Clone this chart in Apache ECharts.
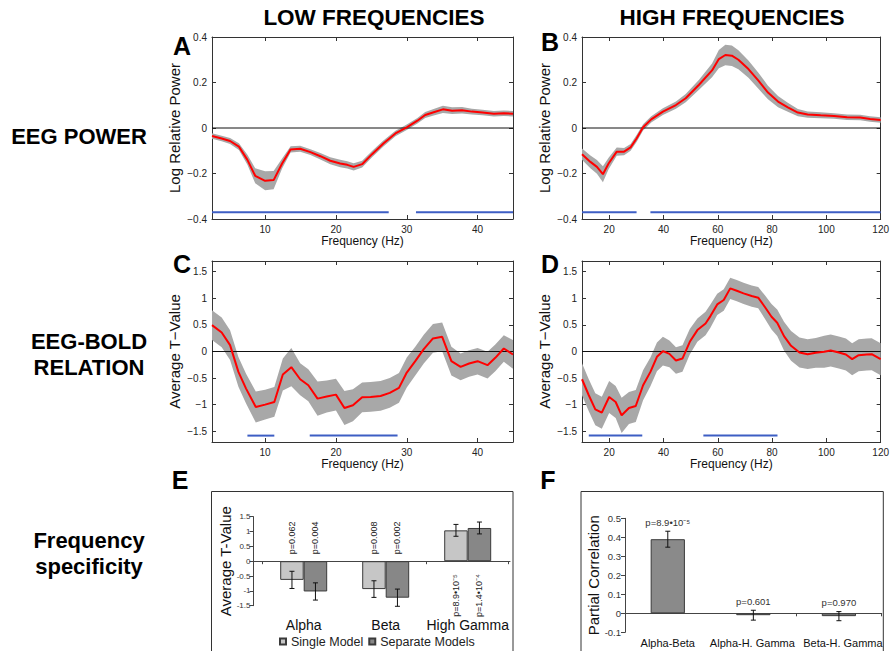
<!DOCTYPE html>
<html><head><meta charset="utf-8">
<script src="https://cdn.jsdelivr.net/npm/echarts@6/dist/echarts.min.js"></script>
<style>html,body{margin:0;padding:0;background:#fff}#c{width:892px;height:651px}</style>
</head><body><div id="c"></div>
<script>
// ---------- DATA ----------
// Panel A: low-frequency EEG power
const freqA = [2.5,3.87,5.05,6.3,7.5,8.6,10,11.2,12.4,13.6,14.95,16.4,17.8,19.2,20.6,21.6,22.5,23.7,25.1,26.7,28.4,30,31.5,32.6,33.8,35.1,36.4,37.8,39.2,40.7,42.3,43.7,45];
const powerA = [-0.035,-0.046,-0.057,-0.082,-0.14,-0.21,-0.232,-0.229,-0.156,-0.094,-0.091,-0.106,-0.124,-0.144,-0.156,-0.162,-0.171,-0.159,-0.115,-0.068,-0.024,0.003,0.032,0.057,0.069,0.082,0.076,0.078,0.072,0.068,0.063,0.065,0.063];
const errA = [0.012,0.012,0.013,0.015,0.022,0.033,0.042,0.04,0.022,0.014,0.013,0.013,0.014,0.015,0.016,0.016,0.016,0.015,0.014,0.013,0.012,0.012,0.012,0.013,0.014,0.016,0.015,0.014,0.013,0.012,0.012,0.012,0.012];
const sigA = [[2.5,27.45],[31.3,45]];
// Panel B: high-frequency EEG power
const freqB = [10,13.1,15.5,17.7,19.8,22.8,25.5,27.9,30.1,32.5,35.5,39.8,44.6,48.2,53.1,57.9,60.4,62.8,65.2,67.6,71.3,74.9,78.5,82.2,85.8,89.5,93.1,97.9,102.8,107.6,112.5,116.1,120];
const powerB = [-0.115,-0.149,-0.171,-0.203,-0.156,-0.104,-0.104,-0.085,-0.046,0.003,0.038,0.072,0.101,0.131,0.19,0.253,0.303,0.321,0.318,0.3,0.259,0.209,0.156,0.116,0.091,0.068,0.059,0.056,0.053,0.047,0.046,0.04,0.035];
const errB = [0.025,0.028,0.03,0.035,0.025,0.018,0.016,0.015,0.015,0.014,0.014,0.015,0.016,0.018,0.022,0.03,0.04,0.045,0.045,0.042,0.038,0.035,0.03,0.025,0.02,0.016,0.014,0.013,0.012,0.012,0.012,0.012,0.012];
const sigB = [[10,30.1],[35.2,120]];
const sigLevelPower = -0.37;
// Panel C: low-frequency EEG-BOLD relation
const freqC = [2.5,3.87,5.05,6.23,7.31,8.68,10,11.3,12.5,13.7,14.95,16.1,17.4,18.7,20,21.2,22.4,23.7,24.9,26.3,27.6,28.9,30,31.2,32.4,33.7,35,36.3,37.6,38.8,40,41.4,42.5,43.7,45];
const tC = [0.496,0.358,0.119,-0.383,-0.697,-1.042,-0.998,-0.948,-0.433,-0.295,-0.521,-0.634,-0.885,-0.847,-0.81,-1.061,-1.01,-0.86,-0.854,-0.835,-0.778,-0.684,-0.395,-0.182,0.044,0.245,0.276,-0.182,-0.289,-0.226,-0.182,-0.257,-0.119,0.056,-0.056];
const errC = [0.28,0.28,0.28,0.28,0.28,0.29,0.28,0.28,0.3,0.36,0.3,0.3,0.32,0.3,0.3,0.32,0.3,0.28,0.28,0.28,0.28,0.28,0.28,0.27,0.27,0.27,0.27,0.27,0.25,0.25,0.25,0.25,0.25,0.25,0.27];
const sigC = [[7.5,11.3],[16.3,28.7]];
// Panel D: high-frequency EEG-BOLD relation
const freqD = [10,12.5,14.9,17.3,20,22.4,24.6,27.3,29.8,32.5,35.2,37.6,39.8,42.2,44.6,47,49.7,52.5,55.5,57.3,59.8,62.2,64.6,67,69.5,72.5,74.9,77.3,79.8,81.9,84.4,87,90.1,93.1,96.1,99.2,101.6,104.6,107.2,109.5,111.9,114.9,116.7,120];
const tD = [-0.521,-0.822,-1.086,-1.149,-0.854,-0.948,-1.199,-1.061,-1.023,-0.634,-0.383,-0.1,0.006,-0.044,-0.169,-0.132,0.182,0.402,0.527,0.665,0.885,0.967,1.186,1.142,1.092,1.042,1.011,0.841,0.653,0.54,0.289,0.107,-0.019,-0.05,-0.025,-0.006,0.019,-0.019,-0.056,-0.144,-0.069,-0.056,-0.05,-0.144];
const errD = [0.3,0.3,0.3,0.3,0.3,0.3,0.33,0.3,0.3,0.28,0.27,0.27,0.27,0.25,0.25,0.25,0.24,0.22,0.22,0.22,0.2,0.2,0.2,0.2,0.2,0.2,0.2,0.22,0.24,0.25,0.27,0.28,0.28,0.28,0.28,0.3,0.3,0.3,0.3,0.3,0.3,0.3,0.3,0.3];
const sigD = [[12.5,32.2],[54.7,82]];
const sigLevelT = -1.58;
// Panel E: frequency specificity
const eCats = ['Alpha','Beta','High Gamma'];
const eSingle = [-0.63,-0.94,1.04];
const eSingleErr = [0.29,0.28,0.2];
const eSeparate = [-1.02,-1.23,1.12];
const eSeparateErr = [0.29,0.29,0.2];
const pSingle = ['p=0.062','p=0.008','p=8.9\u202210\u207B\u2075'];
const pSeparate = ['p=0.004','p=0.002','p=1.4\u202210\u207B\u2074'];
// Panel F: partial correlation
const fCats = ['Alpha-Beta','Alpha-H. Gamma','Beta-H. Gamma'];
const fVals = [0.39,-0.01,-0.015];
const fErr = [0.042,0.026,0.024];
const pF = ['p=8.9\u202210\u207B\u2075','p=0.601','p=0.970'];

// ---------- CHART ----------
const chart = echarts.init(document.getElementById('c'), null, {renderer:'svg', width:892, height:651});
const FONT = "'Liberation Sans', Arial, Helvetica, sans-serif";
const grids = [], xAxes = [], yAxes = [], series = [];
const minus = s => String(s).replace('-', '\u2212');
const onStep = (v, step) => Math.abs(v / step - Math.round(v / step)) < 1e-6;

function linePanel(c) {
  const g = grids.length;
  grids.push({left:c.left, top:c.top, width:c.width, height:c.height});
  const axLine = {show:true, onZero:false, lineStyle:{color:'#333', width:1}};
  const tick = {show:true, inside:true, length:4, lineStyle:{color:'#333', width:1}};
  const xi = xAxes.length, yi = yAxes.length;
  const xBase = {gridIndex:g, type:'value', min:c.xmin, max:c.xmax, splitNumber:c.xsplit,
    axisLine:axLine, axisTick:tick, splitLine:{show:false}};
  xAxes.push(Object.assign({}, xBase, {position:'bottom',
    axisLabel:{fontSize:10, color:'#222', fontFamily:FONT, margin:5,
      formatter: v => onStep(v, c.xstep) ? String(Math.round(v)) : ''},
    name:'Frequency (Hz)', nameLocation:'middle', nameGap:14,
    nameTextStyle:{fontSize:12, color:'#111', fontFamily:FONT}}));
  xAxes.push(Object.assign({}, xBase, {position:'top', axisLabel:{show:false}}));
  const yBase = {gridIndex:g, type:'value', min:c.ymin, max:c.ymax, splitNumber:c.ysplit,
    axisLine:axLine, axisTick:tick, splitLine:{show:false}};
  yAxes.push(Object.assign({}, yBase, {position:'left',
    axisLabel:{fontSize:10, color:'#222', fontFamily:FONT, margin:5,
      formatter: v => onStep(v, c.ystep) ? minus(+v.toFixed(3)) : ''},
    name:c.yname, nameLocation:'middle', nameGap:30,
    nameTextStyle:{fontSize:15, color:'#111', fontFamily:FONT}}));
  yAxes.push(Object.assign({}, yBase, {position:'right', axisLabel:{show:false}}));
  const xs = c.x, ys = c.y, es = c.e;
  // grey confidence band
  series.push({type:'custom', xAxisIndex:xi, yAxisIndex:yi, silent:true, z:1,
    data: xs.map((x, i) => [x, ys[i]]),
    renderItem: (params, api) => {
      if (params.dataIndex !== 0) return;
      const pts = [];
      for (let i = 0; i < xs.length; i++) pts.push(api.coord([xs[i], ys[i] + es[i]]));
      for (let i = xs.length - 1; i >= 0; i--) pts.push(api.coord([xs[i], ys[i] - es[i]]));
      return {type:'polygon', shape:{points:pts}, style:{fill:'#a8a8a8', stroke:'none'}};
    }});
  // zero line
  series.push({type:'line', xAxisIndex:xi, yAxisIndex:yi, silent:true, z:2, showSymbol:false,
    data:[[c.xmin, 0],[c.xmax, 0]], lineStyle:{color:'#111', width:1}});
  // mean curve
  series.push({type:'line', xAxisIndex:xi, yAxisIndex:yi, z:3, showSymbol:false, smooth:false,
    data: xs.map((x, i) => [x, ys[i]]), lineStyle:{color:'#ff0000', width:2}});
  // significance bars
  c.sig.forEach(s => series.push({type:'line', xAxisIndex:xi, yAxisIndex:yi, z:3, showSymbol:false, silent:true,
    data:[[s[0], c.sigY],[s[1], c.sigY]], lineStyle:{color:'#3d5ec4', width:2}}));
}

linePanel({left:212, top:37, width:301, height:182, xmin:2.5, xmax:45, xsplit:4, xstep:10,
  ymin:-0.4, ymax:0.4, ysplit:4, ystep:0.2, yname:'Log Relative Power',
  x:freqA, y:powerA, e:errA, sig:sigA, sigY:sigLevelPower});
linePanel({left:582, top:37, width:301, height:182, xmin:10, xmax:120, xsplit:5, xstep:20,
  ymin:-0.4, ymax:0.4, ysplit:4, ystep:0.2, yname:'Log Relative Power',
  x:freqB, y:powerB, e:errB, sig:sigB, sigY:sigLevelPower});
linePanel({left:212, top:261, width:301, height:181, xmin:2.5, xmax:45, xsplit:4, xstep:10,
  ymin:-1.7, ymax:1.7, ysplit:7, ystep:0.5, yname:'Average T\u2212Value',
  x:freqC, y:tC, e:errC, sig:sigC, sigY:sigLevelT});
linePanel({left:582, top:261, width:301, height:181, xmin:10, xmax:120, xsplit:5, xstep:20,
  ymin:-1.7, ymax:1.7, ysplit:7, ystep:0.5, yname:'Average T\u2212Value',
  x:freqD, y:tD, e:errD, sig:sigD, sigY:sigLevelT});

// error-bar renderer for category bar charts
function errBars(nBars, gapFrac, sign, labels) {
  return (params, api) => {
    const cat = api.value(0), v = api.value(1), e = api.value(2);
    const c = api.coord([cat, v]);
    const band = api.size([1, 0])[0];
    const bw = band * (1 - gapFrac) / nBars;
    const x = c[0] + sign * bw / 2;
    const yT = api.coord([cat, v + e])[1], yB = api.coord([cat, v - e])[1];
    const cap = 2.5, st = {stroke:'#111', lineWidth:1};
    const ch = [
      {type:'line', shape:{x1:x, y1:yT, x2:x, y2:yB}, style:st},
      {type:'line', shape:{x1:x - cap, y1:yT, x2:x + cap, y2:yT}, style:st},
      {type:'line', shape:{x1:x - cap, y1:yB, x2:x + cap, y2:yB}, style:st}];
    if (labels) ch.push({type:'text', x:x, y:yT - 4, style:{text:labels[params.dataIndex],
      align:'center', verticalAlign:'bottom', fontSize:9.5, fontFamily:FONT, fill:'#333'}});
    return {type:'group', children:ch};
  };
}

// ----- Panel E -----
const eGap = 0.427;
let g = grids.length;
grids.push({left:253.5, top:516.7, width:256.5, height:89});
let xi = xAxes.length, yi = yAxes.length;
xAxes.push({gridIndex:g, type:'value', min:0, max:1, axisLine:{show:true, onZero:true, lineStyle:{color:'#444'}},
  axisTick:{show:false}, axisLabel:{show:false}, splitLine:{show:false}});
yAxes.push({gridIndex:g, type:'value', min:-1.5, max:1.5, interval:0.5,
  axisLine:{show:true, lineStyle:{color:'#444'}}, axisTick:{show:true, length:4, lineStyle:{color:'#444'}},
  axisLabel:{fontSize:8, color:'#333', fontFamily:FONT, margin:3}, splitLine:{show:false},
  name:'Average T-Value', nameLocation:'middle', nameGap:21, nameTextStyle:{fontSize:15, color:'#111', fontFamily:FONT}});
series.push({type:'line', xAxisIndex:xi, yAxisIndex:yi, data:[], silent:true});
g = grids.length;
grids.push({left:262.7, top:516.7, width:246, height:89});
xi = xAxes.length; yi = yAxes.length;
xAxes.push({gridIndex:g, type:'category', data:eCats, position:'top', axisLine:{show:false, onZero:true},
  axisTick:{show:true, inside:true, length:3, lineStyle:{color:'#444'}}, axisLabel:{show:false}});
xAxes.push({gridIndex:g, type:'category', data:eCats, position:'bottom', axisLine:{show:false, onZero:false},
  axisTick:{show:false}, axisLabel:{interval:0, fontSize:14, color:'#111', fontFamily:FONT, margin:12}});
yAxes.push({gridIndex:g, type:'value', min:-1.5, max:1.5, show:false});
const labTop = {position:'top', align:'left', verticalAlign:'middle', distance:7};
const labBot = {position:'bottom', align:'right', verticalAlign:'middle', distance:13};
function eBar(name, vals, color, pl) {
  return {type:'bar', name:name, xAxisIndex:xi, yAxisIndex:yi, barGap:'0%', barCategoryGap:(eGap*100)+'%',
    itemStyle:{color:color, borderColor:'#3a3a3a', borderWidth:1},
    label:{show:true, rotate:90, fontSize:9, color:'#222', fontFamily:FONT, formatter: p => pl[p.dataIndex]},
    data: vals.map(v => ({value:v, label: v < 0 ? labTop : labBot}))};
}
series.push(eBar('Single Model', eSingle, '#c6c6c6', pSingle));
series.push(eBar('Separate Models', eSeparate, '#878787', pSeparate));
series.push({type:'custom', xAxisIndex:xi, yAxisIndex:yi, silent:true, z:5,
  data: eCats.map((c, i) => [i, eSingle[i], eSingleErr[i]]), renderItem: errBars(2, eGap, -1)});
series.push({type:'custom', xAxisIndex:xi, yAxisIndex:yi, silent:true, z:5,
  data: eCats.map((c, i) => [i, eSeparate[i], eSeparateErr[i]]), renderItem: errBars(2, eGap, 1)});

// ----- Panel F -----
const fGap = 0.6;
g = grids.length;
grids.push({left:625, top:518.3, width:256.7, height:114});
xi = xAxes.length; yi = yAxes.length;
xAxes.push({gridIndex:g, type:'category', data:fCats, position:'top', axisLine:{show:true, onZero:true, lineStyle:{color:'#444'}},
  axisTick:{show:true, inside:true, length:3, lineStyle:{color:'#444'}}, axisLabel:{show:false}});
xAxes.push({gridIndex:g, type:'category', data:fCats, position:'bottom', axisLine:{show:false, onZero:false},
  axisTick:{show:false}, axisLabel:{interval:0, fontSize:11, color:'#111', fontFamily:FONT, margin:5,
    formatter: (v, i) => i === fCats.length - 1 ? '{r|' + v + '}' : (i === 1 ? '{l|' + v + '}' : v),
    rich:{r:{fontSize:11, fontFamily:FONT, color:'#111', padding:[0,0,0,8]}, l:{fontSize:11, fontFamily:FONT, color:'#111', padding:[0,2,0,0]}}}});
yAxes.push({gridIndex:g, type:'value', min:-0.1, max:0.5, interval:0.1,
  axisLine:{show:true, lineStyle:{color:'#444'}}, axisTick:{show:true, length:4, lineStyle:{color:'#444'}},
  axisLabel:{fontSize:9.5, color:'#333', fontFamily:FONT, margin:4}, splitLine:{show:false},
  name:'Partial Correlation', nameLocation:'middle', nameGap:24, nameTextStyle:{fontSize:15, color:'#111', fontFamily:FONT}});
series.push({type:'bar', xAxisIndex:xi, yAxisIndex:yi, barCategoryGap:(fGap*100)+'%', data:fVals,
  itemStyle:{color:'#8a8a8a', borderColor:'#3a3a3a', borderWidth:1}});
series.push({type:'custom', xAxisIndex:xi, yAxisIndex:yi, silent:true, z:5,
  data: fCats.map((c, i) => [i, fVals[i], fErr[i]]), renderItem: errBars(1, fGap, 0, pF)});

// ---------- TEXT & FRAMES ----------
const T = (text, x, y, size, bold) => ({type:'text', x:x, y:y, silent:true,
  style:{text:text, align:'center', verticalAlign:'middle', fill:'#000',
    font:(bold ? 'bold ' : '') + size + 'px ' + FONT}});
const graphics = [
  T('LOW FREQUENCIES', 374, 17, 22.5, true),
  T('HIGH FREQUENCIES', 732, 17, 22.5, true),
  T('EEG POWER', 79, 136, 22, true),
  T('EEG-BOLD', 89, 341, 22, true),
  T('RELATION', 89, 367, 22, true),
  T('Frequency', 89, 540, 22, true),
  T('specificity', 89, 566, 22, true),
  T('A', 182, 46, 25, true),
  T('B', 550, 42, 25, true),
  T('C', 182, 264, 25, true),
  T('D', 550, 264, 25, true),
  T('E', 180, 480, 25, true),
  T('F', 548, 480, 25, true),
  {type:'rect', silent:true, shape:{x:211.5, y:491.5, width:301.5, height:200}, style:{fill:'none', stroke:'#333', lineWidth:1}},
  {type:'rect', silent:true, shape:{x:581, y:491.5, width:302.3, height:200}, style:{fill:'none', stroke:'#333', lineWidth:1}}
];

chart.setOption({
  animation:false,
  backgroundColor:'#ffffff',
  textStyle:{fontFamily:FONT},
  grid:grids, xAxis:xAxes, yAxis:yAxes, series:series,
  legend:{data:['Single Model','Separate Models'], left:274, top:633, padding:[2,5,2,5], icon:'rect', itemWidth:6, itemHeight:6,
    itemGap:5, textStyle:{fontSize:12.5, color:'#222', fontFamily:FONT}, selectedMode:false},
  graphic:graphics
});
</script></body></html>
